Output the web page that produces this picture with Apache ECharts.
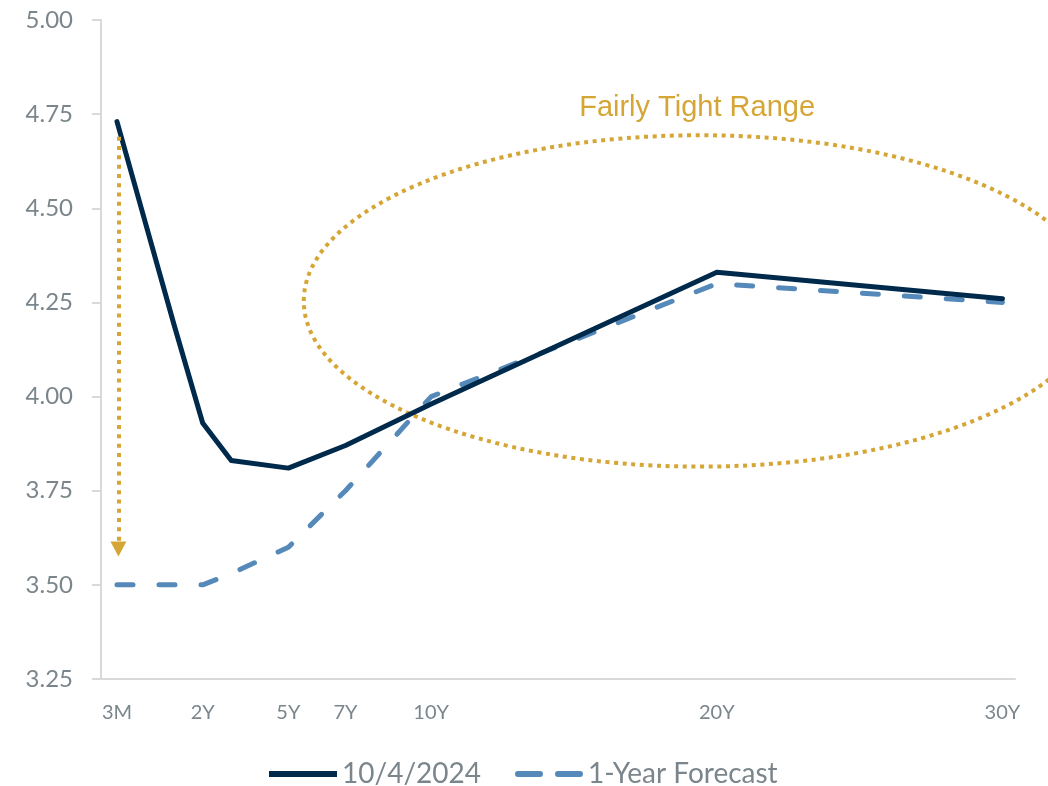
<!DOCTYPE html>
<html>
<head>
<meta charset="utf-8">
<script src="https://cdn.jsdelivr.net/npm/echarts@6/dist/echarts.min.js"></script>
<style>
  html, body { margin: 0; padding: 0; background: #ffffff; }
  #chart { width: 1048px; height: 786px; }
</style>
</head>
<body>
<div id="chart"></div>
<script>
// ---- data ----
const maturities   = ['3M', '6M', '1Y', '2Y', '3Y', '5Y', '7Y', '10Y', '20Y', '30Y'];
const maturityPos  = [-1, 0, 1, 2, 3, 5, 7, 10, 20, 30];
const current      = [4.73, 4.46, 4.19, 3.93, 3.83, 3.81, 3.87, 3.98, 4.33, 4.26];
const forecast     = [3.50, 3.50, 3.50, 3.50, 3.53, 3.60, 3.75, 4.00, 4.30, 4.25];
const shownLabels  = ['3M', '2Y', '5Y', '7Y', '10Y', '20Y', '30Y'];
const seriesNames  = ['10/4/2024', '1-Year Forecast'];
const annotationText = 'Fairly Tight Range';

// annotation geometry in data units
const arrowFrom = [-0.95, 4.69];
const arrowTo   = [-0.95, 3.595];
const ellipseCenter = [19.41, 4.254];
const ellipseRadius = [13.87, 0.44];
const labelPos = [19.31, 4.766];

const GRAY = '#7b868c';
const GOLD = '#d5a535';
const NAVY = '#002a4b';
const STEEL = '#5589b9';
const AXIS = '#d9d9d9';

const labelValues = shownLabels.map(l => maturityPos[maturities.indexOf(l)]);

const chart = echarts.init(document.getElementById('chart'), null, { renderer: 'canvas' });

const option = {
  backgroundColor: '#ffffff',
  animation: false,
  grid: { left: 101, right: 33, top: 20, bottom: 107, containLabel: false },
  xAxis: {
    type: 'value',
    min: -1.56,
    max: 30.44,
    splitLine: { show: false },
    axisLine: { show: true, onZero: false, lineStyle: { color: AXIS, width: 2 } },
    axisTick: { show: false },
    axisLabel: {
      customValues: labelValues,
      formatter: v => {
        const i = maturityPos.indexOf(v);
        return i >= 0 ? maturities[i] : '';
      },
      color: GRAY,
      fontFamily: 'Lato',
      fontSize: 20,
      margin: 24
    }
  },
  yAxis: {
    type: 'value',
    min: 3.25,
    max: 5.0,
    interval: 0.25,
    splitLine: { show: false },
    axisLine: { show: true, onZero: false, lineStyle: { color: AXIS, width: 2 } },
    axisTick: { show: true, length: 9, lineStyle: { color: AXIS, width: 2 } },
    axisLabel: {
      formatter: v => v.toFixed(2),
      color: GRAY,
      fontFamily: 'Lato',
      fontSize: 24,
      margin: 28
    }
  },
  legend: {
    left: 264,
    top: 755,
    itemWidth: 68,
    itemHeight: 6,
    itemGap: 34,
    textStyle: { color: GRAY, fontFamily: 'Lato', fontSize: 28 },
    data: [
      { name: seriesNames[0], icon: 'path://M0,0H68V6H0Z' },
      { name: seriesNames[1], icon: 'path://M3,0H25A3,3,0,0,1,25,6H3A3,3,0,0,1,3,0Z M43,0H65A3,3,0,0,1,65,6H43A3,3,0,0,1,43,0Z' }
    ]
  },
  series: [
    {
      name: seriesNames[0],
      type: 'line',
      data: maturityPos.map((x, i) => [x, current[i]]),
      showSymbol: false,
      symbol: 'none',
      z: 3,
      lineStyle: { color: NAVY, width: 5, cap: 'round', join: 'round' },
      itemStyle: { color: NAVY },
      markLine: {
        silent: true,
        symbol: ['none', 'triangle'],
        symbolSize: [16, 15],
        label: { show: false },
        lineStyle: { color: GOLD, width: 4, type: [4, 5.3], cap: 'butt' },
        itemStyle: { color: GOLD },
        data: [[{ coord: arrowFrom }, { coord: arrowTo }]]
      }
    },
    {
      name: seriesNames[1],
      type: 'line',
      data: maturityPos.map((x, i) => [x, forecast[i]]),
      showSymbol: false,
      symbol: 'none',
      z: 2,
      lineStyle: { color: STEEL, width: 5, type: [16, 26], cap: 'round', join: 'round' },
      itemStyle: { color: STEEL }
    }
  ]
};

chart.setOption(option);

function drawAnnotations() {
  const c = chart.convertToPixel({ gridIndex: 0 }, ellipseCenter);
  const e = chart.convertToPixel({ gridIndex: 0 }, [ellipseCenter[0] + ellipseRadius[0], ellipseCenter[1] + ellipseRadius[1]]);
  const t = chart.convertToPixel({ gridIndex: 0 }, labelPos);
  chart.setOption({
    graphic: [
      {
        type: 'ellipse',
        silent: true,
        z: 1,
        shape: { cx: c[0], cy: c[1], rx: Math.abs(e[0] - c[0]), ry: Math.abs(c[1] - e[1]) },
        style: { fill: 'none', stroke: GOLD, lineWidth: 4, lineDash: [4, 4.6], lineCap: 'butt' }
      },
      {
        type: 'text',
        silent: true,
        z: 5,
        x: t[0],
        y: t[1],
        style: {
          text: annotationText,
          fill: GOLD,
          font: '29px "Liberation Sans", Arial, sans-serif',
          textAlign: 'center',
          textVerticalAlign: 'middle'
        }
      }
    ]
  });
}
drawAnnotations();
</script>
</body>
</html>
